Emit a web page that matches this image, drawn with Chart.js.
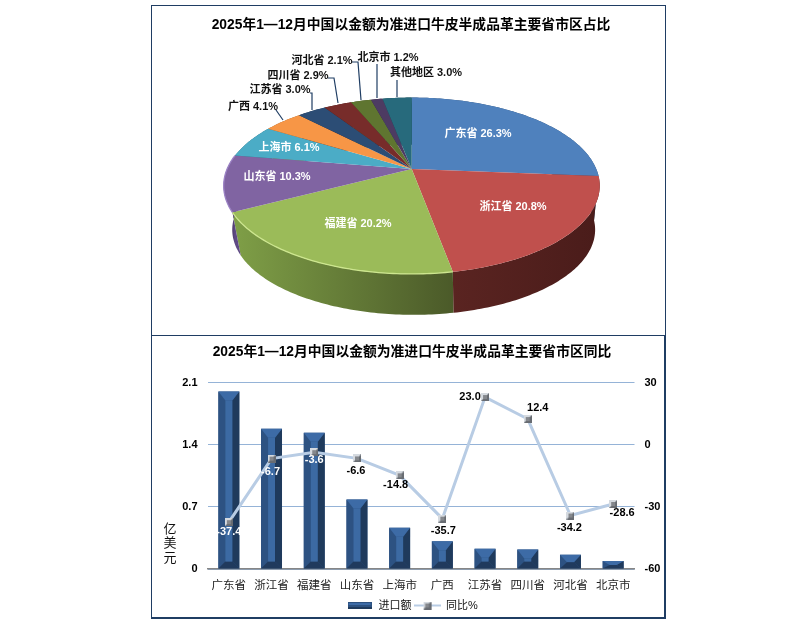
<!DOCTYPE html>
<html>
<head>
<meta charset="utf-8">
<style>
  body { margin: 0; background: #fff; }
  .panel { position: absolute; box-sizing: border-box; border: 1.5px solid #1f3d63; background: #fff; }
  canvas { display: block; }
  #pieBox { left: 151px; top: 5px; width: 515px; height: 331px; }
  #barBox { left: 151px; top: 335px; width: 515px; height: 284px; border-bottom-width: 2px; border-right-width: 2px; }
</style>
</head>
<body>
<div class="panel" id="pieBox"><canvas id="pieChart" width="512" height="328"></canvas></div>
<div class="panel" id="barBox"><canvas id="barChart" width="511" height="285"></canvas></div>
<script src="https://cdn.jsdelivr.net/npm/chart.js@4"></script>
<script>
const pieRegions = ['广东省', '浙江省', '福建省', '山东省', '上海市', '广西', '江苏省', '四川省', '河北省', '北京市', '其他地区'];
const pieShares = [26.3, 20.8, 20.2, 10.3, 6.1, 4.1, 3.0, 2.9, 2.1, 1.2, 3.0];

const barRegions = ['广东省', '浙江省', '福建省', '山东省', '上海市', '广西', '江苏省', '四川省', '河北省', '北京市'];
const amounts = [2.0, 1.58, 1.535, 0.783, 0.464, 0.312, 0.228, 0.22, 0.16, 0.091];
const yoy = [-37.4, -6.7, -3.6, -6.6, -14.8, -35.7, 23.0, 12.4, -34.2, -28.6];
const leftTicks = [0, 0.7, 1.4, 2.1];
const rightTicks = [-60, -30, 0, 30];

const LATIN_CJK = '"Liberation Sans", "Noto Sans CJK SC", sans-serif';

// ---- pie ----
const faceColors = ['#4f81bd', '#c0504d', '#9bbb59', '#8064a2', '#4bacc6', '#f79646', '#2c4d75', '#772c2a', '#5f7530', '#4d3b62', '#276a7c'];
const wallColors = [
  ['#2f4d71', '#2f4d71'], ['#4a1c1a', '#5a2421'], ['#4b5a29', '#7f9f47'], ['#4f3c6e', '#5f4a85'],
  ['#2d6776', '#2d6776'], ['#94592a', '#94592a'], ['#1a2e46', '#1a2e46'], ['#471a19', '#471a19'],
  ['#39461d', '#39461d'], ['#2e233b', '#2e233b'], ['#17404a', '#17404a']
];
const rimColors = [null, null, '#cde68f', '#9d84c6'];

// label centres and leader lines, in canvas pixels
const pieLabels = [
  { x: 326, y: 128, color: '#fff' }, { x: 361, y: 201, color: '#fff' }, { x: 206, y: 218, color: '#fff' },
  { x: 125, y: 171, color: '#fff' }, { x: 137, y: 142, color: '#fff' },
  { x: 101, y: 101, color: '#111', line: [[124, 104], [131, 114]] },
  { x: 128, y: 84, color: '#111', line: [[158, 87], [160, 87], [160, 104]] },
  { x: 146, y: 70, color: '#111', line: [[176, 72], [182, 72], [186, 97]] },
  { x: 170, y: 55, color: '#111', line: [[200, 56], [206, 56], [209, 94]] },
  { x: 236, y: 52, color: '#111', line: [[225, 58], [225, 92]] },
  { x: 274, y: 67, color: '#111', line: [[245, 74], [245, 91]] }
];

// circle -> tilted ellipse, the apex sits above the ellipse centre
const APEX = { x: 259.7, y: 163 }, TILT = 0.19, RX = 184.6, RY = 85;
const OVAL = { x: 259.5, y: 179 }, WALL_SCALE = 0.965, WALL_DROP = 44, WALL_SHIFT = 2;

function rimPoint(angle) {
  const k = 1 - TILT * Math.sin(angle);
  return { x: APEX.x + RX * Math.cos(angle) / k, y: APEX.y + RY * Math.sin(angle) / k };
}
function floorPoint(p) {
  return {
    x: OVAL.x + (p.x - OVAL.x) * WALL_SCALE + WALL_SHIFT,
    y: OVAL.y + (p.y - OVAL.y) * WALL_SCALE + WALL_DROP
  };
}
function arcPoints(a0, a1) {
  const pts = [], n = Math.max(2, Math.ceil((a1 - a0) * 60));
  for (let i = 0; i <= n; i++) pts.push(rimPoint(a0 + (a1 - a0) * i / n));
  return pts;
}

const tiltedPie = {
  id: 'tiltedPie',
  beforeDatasetDraw(chart, args) {
    const ctx = chart.ctx, arcs = args.meta.data;
    ctx.save();
    arcs.forEach((arc, i) => {
      const pts = arcPoints(arc.startAngle, arc.endAngle);
      const low = pts.map(floorPoint);
      const g = ctx.createLinearGradient(pts[0].x, 0, pts[pts.length - 1].x + 0.01, 0);
      g.addColorStop(0, wallColors[i][0]);
      g.addColorStop(1, wallColors[i][1]);
      ctx.fillStyle = g;
      ctx.beginPath();
      pts.forEach((p, j) => j ? ctx.lineTo(p.x, p.y) : ctx.moveTo(p.x, p.y));
      low.reverse().forEach(p => ctx.lineTo(p.x, p.y));
      ctx.closePath();
      ctx.fill();
    });
    arcs.forEach((arc, i) => {
      const pts = arcPoints(arc.startAngle, arc.endAngle);
      ctx.fillStyle = faceColors[i];
      ctx.beginPath();
      ctx.moveTo(APEX.x, APEX.y);
      pts.forEach(p => ctx.lineTo(p.x, p.y));
      ctx.closePath();
      ctx.fill();
      if (rimColors[i]) {
        ctx.strokeStyle = rimColors[i];
        ctx.lineWidth = 1.3;
        ctx.beginPath();
        pts.forEach((p, j) => j ? ctx.lineTo(p.x, p.y) : ctx.moveTo(p.x, p.y));
        ctx.stroke();
      }
    });
    ctx.restore();
    return false;
  },
  afterDraw(chart) {
    const ctx = chart.ctx;
    ctx.save();
    ctx.font = 'bold 11px ' + LATIN_CJK;
    ctx.textAlign = 'center';
    ctx.textBaseline = 'middle';
    pieLabels.forEach((lab, i) => {
      if (lab.line) {
        ctx.strokeStyle = '#1f3d63';
        ctx.lineWidth = 1.2;
        ctx.beginPath();
        lab.line.forEach((p, j) => j ? ctx.lineTo(p[0], p[1]) : ctx.moveTo(p[0], p[1]));
        ctx.stroke();
      }
      ctx.fillStyle = lab.color;
      ctx.fillText(pieRegions[i] + ' ' + pieShares[i].toFixed(1) + '%', lab.x, lab.y);
    });
    ctx.restore();
  }
};

new Chart(document.getElementById('pieChart'), {
  type: 'pie',
  data: {
    labels: pieRegions,
    datasets: [{ data: pieShares, backgroundColor: faceColors, borderWidth: 0 }]
  },
  options: {
    responsive: false,
    animation: false,
    layout: { padding: { left: 6 } },
    plugins: {
      legend: { display: false },
      tooltip: { enabled: false },
      title: {
        display: true,
        text: '2025年1—12月中国以金额为准进口牛皮半成品革主要省市区占比',
        color: '#000',
        font: { family: LATIN_CJK, size: 13.8, weight: 'bold' },
        padding: { top: 11, bottom: 6 }
      }
    }
  },
  plugins: [tiltedPie]
});

// ---- bars + line ----
function makeMarker() {
  const c = document.createElement('canvas');
  c.width = 8; c.height = 8;
  const m = c.getContext('2d');
  m.fillStyle = '#d5dae0';
  m.fillRect(0, 0, 8, 8);
  m.fillStyle = '#686c72';
  m.beginPath(); m.moveTo(8, 0); m.lineTo(8, 8); m.lineTo(0, 8); m.closePath(); m.fill();
  m.fillStyle = '#85888d';
  m.fillRect(2, 2, 4, 4);
  return c;
}
function makeBarSwatch() {
  const c = document.createElement('canvas');
  c.width = 24; c.height = 7;
  const m = c.getContext('2d');
  m.fillStyle = '#2c5180'; m.fillRect(0, 0, 24, 7);
  m.fillStyle = '#3d6ba6'; m.fillRect(1, 1, 22, 2);
  m.fillStyle = '#1f3a5c'; m.fillRect(0, 5, 24, 2);
  return c;
}
function makeLineSwatch() {
  const c = document.createElement('canvas');
  c.width = 27; c.height = 8;
  const m = c.getContext('2d');
  m.fillStyle = '#b8cce4'; m.fillRect(0, 3, 27, 2);
  m.drawImage(makeMarker(), 9.5, 0);
  return c;
}
const marker = makeMarker();
const barSwatch = makeBarSwatch();
const lineSwatch = makeLineSwatch();

const BEVEL = 7, BEVEL_TOP = 9;
const bevelBars = {
  id: 'bevelBars',
  afterDatasetDraw(chart, args) {
    if (args.meta.type !== 'bar') return;
    const ctx = chart.ctx;
    args.meta.data.forEach(bar => {
      const l = bar.x - bar.width / 2, r = bar.x + bar.width / 2, t = bar.y, b = bar.base;
      const dt = Math.min(BEVEL_TOP, (b - t) * 0.55), db = Math.min(BEVEL, (b - t) * 0.45);
      const face = (color, pts) => {
        ctx.fillStyle = color;
        ctx.beginPath();
        pts.forEach((p, j) => j ? ctx.lineTo(p[0], p[1]) : ctx.moveTo(p[0], p[1]));
        ctx.closePath();
        ctx.fill();
      };
      face('#2d5282', [[l, t], [l + BEVEL, t + dt], [l + BEVEL, b - db], [l, b]]);
      face('#1f3a5c', [[r, t], [r - BEVEL, t + dt], [r - BEVEL, b - db], [r, b]]);
      face('#3d6ba6', [[l, t], [r, t], [r - BEVEL, t + dt], [l + BEVEL, t + dt]]);
      face('#203a5d', [[l, b], [r, b], [r - BEVEL, b - db], [l + BEVEL, b - db]]);
      face('#3c6aa3', [[l + BEVEL, t + dt], [r - BEVEL, t + dt], [r - BEVEL, b - db], [l + BEVEL, b - db]]);
    });
  }
};

// label offsets from each line point
const yoyLabelOffsets = [[0, 10], [-1, 13], [0, 8], [-1, 13], [-4, 10], [1, 12], [-15, 0], [10, -11], [-1, 12], [9, 9]];
const yoyLabelColors = ['#fff', '#fff', '#fff', '#000', '#000', '#000', '#000', '#000', '#000', '#000'];

const barExtras = {
  id: 'barExtras',
  afterDraw(chart) {
    const ctx = chart.ctx;
    ctx.save();
    ctx.font = 'bold 11px ' + LATIN_CJK;
    ctx.textAlign = 'center';
    ctx.textBaseline = 'middle';
    chart.getDatasetMeta(1).data.forEach((pt, i) => {
      ctx.fillStyle = yoyLabelColors[i];
      ctx.fillText(yoy[i].toFixed(1), pt.x + yoyLabelOffsets[i][0], pt.y + yoyLabelOffsets[i][1]);
    });
    ctx.fillStyle = '#111';
    ctx.font = '13px "Noto Sans CJK SC", sans-serif';
    ['亿', '美', '元'].forEach((ch, i) => ctx.fillText(ch, 18, 192 + i * 14.5));
    ctx.restore();
  }
};

new Chart(document.getElementById('barChart'), {
  data: {
    labels: barRegions,
    datasets: [
      {
        type: 'bar',
        label: '进口额',
        data: amounts,
        yAxisID: 'y',
        backgroundColor: '#2d5282',
        barPercentage: 0.49,
        categoryPercentage: 1,
        order: 2
      },
      {
        type: 'line',
        label: '同比%',
        data: yoy,
        yAxisID: 'y1',
        borderColor: '#b8cce4',
        borderWidth: 3,
        tension: 0,
        pointStyle: marker,
        order: 1
      }
    ]
  },
  options: {
    responsive: false,
    animation: false,
    layout: { padding: { left: 9 } },
    plugins: {
      tooltip: { enabled: false },
      title: {
        display: true,
        text: '2025年1—12月中国以金额为准进口牛皮半成品革主要省市区同比',
        color: '#000',
        font: { family: LATIN_CJK, size: 13.8, weight: 'bold' },
        padding: { top: 8, bottom: 22 }
      },
      legend: {
        position: 'bottom',
        labels: {
          usePointStyle: true,
          pointStyleWidth: 27,
          color: '#111',
          padding: 2,
          font: { family: LATIN_CJK, size: 11 },
          sort: (a, b) => a.datasetIndex - b.datasetIndex,
          generateLabels(chart) {
            const items = Chart.defaults.plugins.legend.labels.generateLabels(chart);
            items.forEach(item => { item.pointStyle = item.datasetIndex === 0 ? barSwatch : lineSwatch; });
            return items;
          }
        }
      }
    },
    scales: {
      x: {
        grid: { display: false },
        border: { color: '#868686', width: 1.5 },
        ticks: { color: '#222', padding: 2, font: { family: LATIN_CJK, size: 11.5 }, maxRotation: 0, autoSkip: false },
        afterFit(axis) { axis.height = 29; }
      },
      y: {
        position: 'left',
        min: 0,
        max: 2.1,
        afterBuildTicks(axis) { axis.ticks = leftTicks.map(v => ({ value: v })); },
        grid: { color: '#95b3d7', drawTicks: false },
        border: { display: false },
        ticks: { color: '#000', padding: 10, font: { family: LATIN_CJK, size: 11, weight: 'bold' } },
        afterFit(axis) { axis.width = 46.5; }
      },
      y1: {
        position: 'right',
        min: -60,
        max: 30,
        afterBuildTicks(axis) { axis.ticks = rightTicks.map(v => ({ value: v })); },
        grid: { display: false, drawTicks: false },
        border: { display: false },
        ticks: { color: '#000', padding: 10, font: { family: LATIN_CJK, size: 11, weight: 'bold' } },
        afterFit(axis) { axis.width = 28.5; }
      }
    }
  },
  plugins: [bevelBars, barExtras]
});
</script>
</body>
</html>
